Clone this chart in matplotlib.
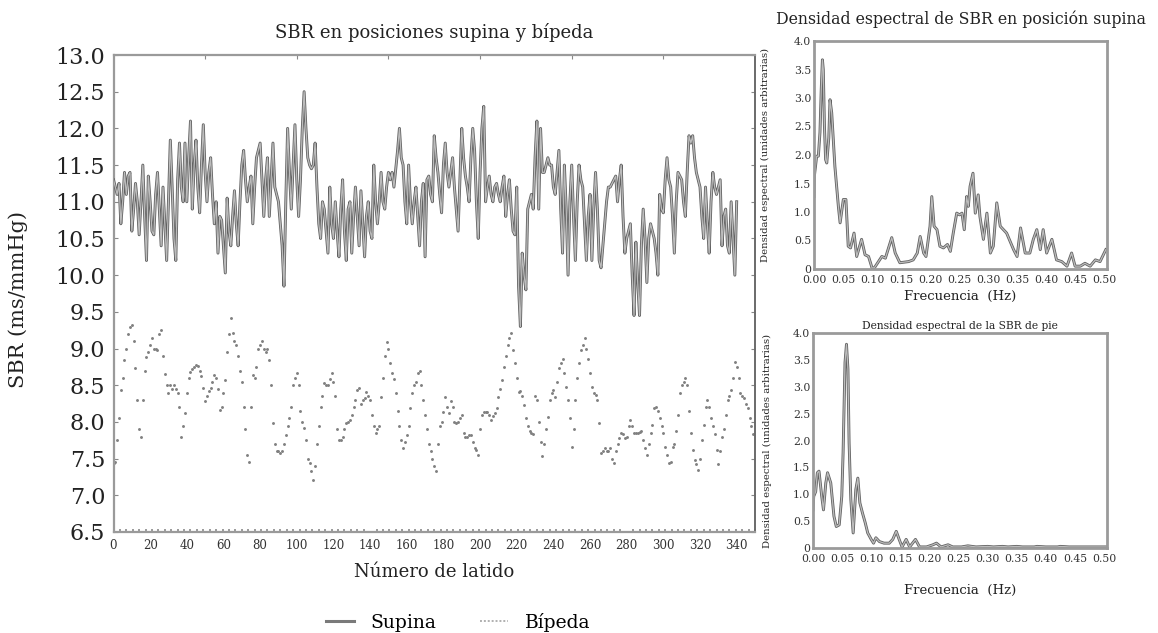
import matplotlib
matplotlib.use("Agg")
import matplotlib.pyplot as plt
import matplotlib.patheffects as pe
from matplotlib.lines import Line2D
from matplotlib.ticker import MultipleLocator

plt.rcParams['font.family'] = ['DejaVu Serif']

# ---------------- data ----------------
supina = [
    11.3, 11.2, 11.1, 11.25, 10.7, 11.0, 11.4, 11.1, 11.35, 11.4,
    10.6, 10.9, 11.25, 11.0, 10.55, 11.0, 11.5, 10.8, 10.2, 11.35,
    11.0, 10.6, 10.55, 11.1, 11.4, 10.9, 10.4, 11.2, 10.7, 10.2,
    11.0, 11.84, 11.2, 10.5, 10.2, 11.3, 11.8, 11.2, 11.0, 11.8,
    11.0, 11.6, 12.1, 10.9, 11.5, 11.84, 11.2, 10.85, 11.5, 12.05,
    11.4, 11.0, 11.4, 11.6, 11.1, 10.7, 11.0, 10.3, 10.8, 10.75,
    10.4, 10.03, 11.05, 10.6, 10.4, 10.8, 11.15, 10.7, 10.4, 11.0,
    11.5, 11.7, 11.3, 11.0, 11.2, 11.35, 10.7, 11.2, 11.6, 11.7,
    11.8, 11.3, 10.8, 11.3, 11.6, 10.8, 11.3, 11.8, 11.2, 11.1,
    11.0, 10.7, 10.4, 9.85, 11.0, 12.0, 11.4, 10.9, 11.5, 12.05,
    11.3, 10.8, 11.3, 12.0, 12.5, 12.0, 11.6, 11.5, 11.45, 11.5,
    11.8, 11.2, 10.7, 10.5, 11.0, 10.9, 10.6, 10.3, 11.2, 10.7,
    10.5, 11.0, 10.6, 10.25, 10.9, 11.3, 10.6, 10.2, 10.9, 11.0,
    10.3, 10.8, 11.2, 10.8, 10.4, 11.15, 10.7, 10.25, 10.8, 11.0,
    10.6, 10.5, 11.5, 11.0, 10.7, 11.0, 11.4, 11.0, 10.9, 11.2,
    11.4, 11.3, 11.4, 11.2, 11.45, 11.7, 12.0, 11.6, 11.5, 11.0,
    10.7, 11.5, 11.0, 10.7, 11.0, 11.2, 10.8, 10.4, 11.0, 11.25,
    10.25, 11.3, 11.35, 11.1, 11.0, 11.9, 11.6, 11.4, 11.1, 10.85,
    11.5, 11.8, 11.4, 11.2, 11.4, 11.6, 11.2, 10.9, 10.6, 11.3,
    12.0, 11.6, 11.35, 11.2, 11.0, 11.6, 12.0, 11.7, 11.0, 10.5,
    11.4, 12.0, 12.3, 11.0, 11.2, 11.35, 11.1, 11.0, 11.2, 11.25,
    11.1, 11.0, 11.2, 11.35, 10.8, 11.1, 11.3, 10.9, 10.6, 10.55,
    11.2, 9.85, 9.3, 10.3, 10.0, 9.8, 10.9, 11.0, 11.1, 10.9,
    11.6, 12.1, 10.9, 12.0, 11.4, 11.4, 11.5, 11.6, 11.5, 11.5,
    11.2, 11.1, 11.4, 11.7, 10.9, 10.3, 11.5, 10.9, 10.0, 11.0,
    11.5, 10.8, 10.2, 11.0, 11.5, 11.3, 11.2, 10.7, 10.2, 10.8,
    11.1, 10.2, 10.9, 11.4, 10.9, 10.2, 10.1, 10.4, 10.7, 11.0,
    11.2, 11.2, 11.25, 11.3, 11.35, 11.0, 11.3, 11.5, 10.8, 10.3,
    10.5, 10.6, 10.7, 10.0, 9.45, 10.45, 9.9, 9.45, 10.4, 10.9,
    10.5, 9.9, 10.5, 10.7, 10.6, 10.5, 10.3, 10.0, 11.1, 10.9,
    10.85, 11.3, 11.6, 11.3, 11.2, 10.8, 10.3, 11.0, 11.4, 11.35,
    11.3, 11.0, 10.8, 11.4, 11.9, 11.8, 11.9, 11.6, 11.4, 11.3,
    11.2, 10.8, 10.5, 11.2, 10.7, 10.3, 11.0, 11.4, 11.2, 11.1,
    11.2, 11.3, 10.4, 10.8, 10.9, 10.4, 10.3, 11.0, 10.5, 10.0,
    11.0,
]

bipeda = [
    7.44, 7.45, 7.75, 8.05, 8.44, 8.6, 8.84, 9.0, 9.2, 9.3,
    9.32, 9.1, 8.73, 8.3, 7.9, 7.8, 8.3, 8.7, 8.89, 8.95,
    9.05, 9.14, 9.0, 9.0, 8.98, 9.2, 9.25, 8.9, 8.65, 8.5,
    8.39, 8.5, 8.45, 8.5, 8.45, 8.4, 8.21, 7.8, 7.95, 8.12,
    8.4, 8.6, 8.68, 8.72, 8.75, 8.77, 8.76, 8.7, 8.62, 8.46,
    8.28, 8.35, 8.42, 8.46, 8.55, 8.64, 8.6, 8.45, 8.16, 8.2,
    8.4, 8.57, 8.95, 9.2, 9.41, 9.21, 9.1, 9.05, 8.9, 8.7,
    8.55, 8.2, 7.9, 7.55, 7.45, 8.2, 8.64, 8.6, 8.75, 9.0,
    9.05, 9.1, 9.0, 8.95, 9.0, 8.85, 8.5, 7.98, 7.7, 7.6,
    7.6, 7.58, 7.6, 7.7, 7.82, 7.94, 8.05, 8.2, 8.5, 8.6,
    8.66, 8.5, 8.15, 8.0, 7.92, 7.75, 7.5, 7.44, 7.33, 7.21,
    7.4, 7.7, 7.95, 8.2, 8.36, 8.53, 8.5, 8.5, 8.58, 8.66,
    8.55, 8.35, 7.9, 7.75, 7.75, 7.8, 7.9, 7.98, 8.0, 8.03,
    8.1, 8.2, 8.3, 8.44, 8.46, 8.25, 8.3, 8.32, 8.41, 8.35,
    8.3, 8.1, 7.95, 7.85, 7.9, 7.95, 8.34, 8.6, 8.9, 9.09,
    9.0, 8.8, 8.66, 8.58, 8.4, 8.15, 7.94, 7.76, 7.64, 7.72,
    7.82, 7.95, 8.19, 8.39, 8.5, 8.55, 8.66, 8.7, 8.5, 8.3,
    8.1, 7.9, 7.7, 7.6, 7.5, 7.4, 7.33, 7.7, 7.94, 8.0,
    8.14, 8.34, 8.2, 8.12, 8.28, 8.2, 8.0, 7.98, 8.0, 8.05,
    8.1, 7.85, 7.8, 7.8, 7.82, 7.82, 7.72, 7.65, 7.62, 7.55,
    7.9, 8.1, 8.14, 8.14, 8.14, 8.1, 8.03, 8.08, 8.12, 8.19,
    8.34, 8.45, 8.57, 8.75, 8.9, 9.05, 9.15, 9.21, 8.98, 8.8,
    8.6, 8.41, 8.42, 8.35, 8.23, 8.05, 7.95, 7.88, 7.85, 7.83,
    8.35, 8.3, 8.0, 7.73, 7.53, 7.7, 7.9, 8.07, 8.3, 8.4,
    8.44, 8.34, 8.55, 8.73, 8.8, 8.86, 8.66, 8.48, 8.3, 8.05,
    7.66, 7.9, 8.3, 8.6, 8.8, 8.98, 9.05, 9.14, 9.0, 8.86,
    8.66, 8.48, 8.4, 8.37, 8.3, 7.99, 7.57, 7.6, 7.64, 7.6,
    7.6, 7.64, 7.5, 7.44, 7.6, 7.7, 7.78, 7.85, 7.83, 7.78,
    7.8, 7.94, 8.03, 7.95, 7.85, 7.85, 7.85, 7.86, 7.88, 7.76,
    7.64, 7.55, 7.7, 7.85, 7.96, 8.19, 8.2, 8.15, 8.05, 7.95,
    7.85, 7.66, 7.55, 7.44, 7.46, 7.66, 7.7, 7.88, 8.1, 8.4,
    8.5, 8.55, 8.6, 8.5, 8.15, 7.85, 7.62, 7.48, 7.42, 7.35,
    7.5, 7.76, 7.96, 8.2, 8.3, 8.2, 8.05, 7.95, 7.83, 7.62,
    7.42, 7.6, 7.8, 7.9, 8.1, 8.3, 8.35, 8.44, 8.6, 8.82,
    8.75, 8.6, 8.4, 8.35, 8.32, 8.25, 8.19, 8.05, 7.95, 7.83,
]

main_xticks = list(range(0, 341, 20))
main_yticks = [6.5, 7.0, 7.5, 8.0, 8.5, 9.0, 9.5, 10.0, 10.5, 11.0, 11.5, 12.0, 12.5, 13.0]

# spectrum supine position
f_sup = [0.0, 0.0006, 0.0046, 0.0075, 0.0103, 0.0125, 0.0145, 0.016, 0.018, 0.020,
         0.022, 0.0255, 0.0276, 0.0305, 0.036, 0.042, 0.045, 0.0506, 0.055, 0.059,
         0.063, 0.069, 0.0736, 0.082, 0.088, 0.094, 0.100, 0.104, 0.117, 0.123,
         0.134, 0.140, 0.148, 0.163, 0.171, 0.178, 0.183, 0.189, 0.193, 0.200,
         0.203, 0.207, 0.212, 0.217, 0.223, 0.230, 0.235, 0.240, 0.246, 0.251,
         0.255, 0.259, 0.263, 0.266, 0.269, 0.274, 0.278, 0.283, 0.286, 0.292,
         0.298, 0.304, 0.309, 0.315, 0.321, 0.332, 0.344, 0.350, 0.356, 0.364,
         0.372, 0.378, 0.384, 0.390, 0.395, 0.401, 0.410, 0.418, 0.427, 0.436,
         0.444, 0.450, 0.459, 0.467, 0.476, 0.485, 0.493, 0.503]
d_sup = [1.27, 1.63, 1.98, 1.98, 2.4, 3.15, 3.67, 3.5, 2.5, 1.92,
         1.86, 2.3, 2.97, 2.74, 1.8, 1.1, 0.81, 1.22, 1.22, 0.4,
         0.37, 0.63, 0.22, 0.52, 0.25, 0.22, 0.02, 0.02, 0.22, 0.19,
         0.55, 0.28, 0.11, 0.13, 0.16, 0.28, 0.57, 0.28, 0.22, 0.75,
         1.27, 0.75, 0.69, 0.40, 0.37, 0.43, 0.31, 0.63, 0.98, 0.95,
         0.98, 0.69, 1.27, 1.10, 1.45, 1.68, 0.98, 1.30, 0.92, 0.52,
         0.98, 0.28, 0.40, 1.16, 0.75, 0.63, 0.34, 0.22, 0.72, 0.28,
         0.28, 0.52, 0.69, 0.34, 0.69, 0.28, 0.52, 0.16, 0.13, 0.05,
         0.28, 0.05, 0.05, 0.10, 0.05, 0.16, 0.13, 0.34]

# spectrum standing
f_bip = [0.0, 0.0012, 0.0046, 0.0075, 0.0103, 0.015, 0.018, 0.022, 0.025, 0.0305,
         0.036, 0.040, 0.045, 0.0494, 0.0517, 0.055, 0.0575, 0.060, 0.062, 0.065,
         0.069, 0.0736, 0.077, 0.0805, 0.085, 0.0897, 0.094, 0.100, 0.104, 0.108,
         0.114, 0.122, 0.131, 0.137, 0.143, 0.148, 0.153, 0.160, 0.166, 0.176,
         0.183, 0.195, 0.206, 0.212, 0.220, 0.232, 0.240, 0.255, 0.266, 0.280,
         0.300, 0.310, 0.325, 0.335, 0.350, 0.360, 0.380, 0.385, 0.400, 0.420,
         0.425, 0.440, 0.505]
d_bip = [0.71, 0.96, 1.05, 1.40, 1.43, 0.96, 0.71, 1.21, 1.40, 1.21,
         0.59, 0.40, 0.43, 0.96, 1.77, 3.45, 3.79, 3.33, 1.96, 0.90,
         0.28, 1.09, 1.30, 0.84, 0.65, 0.47, 0.28, 0.16, 0.09, 0.19,
         0.12, 0.09, 0.09, 0.16, 0.31, 0.16, 0.02, 0.16, 0.02, 0.16,
         0.02, 0.02, 0.06, 0.09, 0.02, 0.06, 0.02, 0.02, 0.04, 0.02,
         0.03, 0.02, 0.03, 0.02, 0.03, 0.02, 0.02, 0.03, 0.02, 0.02,
         0.03, 0.02, 0.02]

spec_xticks = [0.00, 0.05, 0.10, 0.15, 0.20, 0.25, 0.30, 0.35, 0.40, 0.45, 0.50]
spec_yticks = [0, 0.5, 1.0, 1.5, 2.0, 2.5, 3.0, 3.5, 4.0]

# ---------------- figure ----------------
W, H = 1158, 633
fig = plt.figure(figsize=(W / 100, H / 100), dpi=100)


def frac(x0, y0, x1, y1):
    return [x0 / W, 1 - y1 / H, (x1 - x0) / W, (y1 - y0) / H]


line_fx = [pe.withStroke(linewidth=2.1, foreground='#626262')]
spine_col = '#9a9a9a'
txt = '#222222'

# ---- main chart ----
ax = fig.add_axes(frac(113.5, 55, 755, 532))
x_sup = list(range(len(supina)))
x_bip = list(range(len(bipeda)))
ax.plot(x_sup, supina, color='#bcbcbc', lw=0.9, path_effects=line_fx, zorder=3)
ax.plot(x_bip, bipeda, linestyle='none', marker='o', ms=2.1, mew=0,
        color='#808080', zorder=2)
ax.set_xlim(0, 350)
ax.set_ylim(6.5, 13.0)
ax.set_xticks(main_xticks)
ax.set_xticklabels([str(v) for v in main_xticks], fontsize=8.5, color='#333333')
ax.set_yticks(main_yticks)
ax.set_yticklabels([f"{v:.1f}" for v in main_yticks], fontsize=16, color=txt)
ax.tick_params(axis='x', length=0, pad=5)
ax.tick_params(axis='y', direction='in', length=3, color='#888888', right=True, pad=6)
ax.xaxis.set_minor_locator(MultipleLocator(3.5))
ax.tick_params(axis='x', which='minor', direction='in', length=2.5, width=1.2,
               color='#8a8a8a', bottom=True)
sec = ax.secondary_xaxis('top')
sec.set_xticks([50, 100, 150, 200, 250, 300])
sec.tick_params(direction='in', length=3, color='#888888', labeltop=False)
sec.spines['top'].set_visible(False)
for s in ['left', 'top', 'bottom']:
    ax.spines[s].set_color(spine_col)
    ax.spines[s].set_linewidth(1.6)
ax.spines['right'].set_color('#6a6a6a')
ax.spines['right'].set_linewidth(1.4)
ax.set_title("SBR en posiciones supina y bípeda", fontsize=13, pad=12, color=txt)
ax.set_xlabel("Número de latido", fontsize=13, labelpad=8, color=txt)
fig.text(18 / W, 1 - 300 / H, "SBR (ms/mmHg)", rotation=90, ha='center', va='center',
         fontsize=15, color=txt)

# ---- spectra ----
def spectrum_axes(rect, f, d, title, title_fs, title_pad, xlabel_pad, ylabel_x):
    a = fig.add_axes(rect)
    a.plot(f, d, color='#bcbcbc', lw=0.9, path_effects=line_fx)
    a.set_xlim(0, 0.505)
    a.set_ylim(0, 4.0)
    a.set_xticks(spec_xticks)
    a.set_xticklabels([f"{v:.2f}" for v in spec_xticks], fontsize=7.8, color='#333333')
    a.set_yticks(spec_yticks)
    a.set_yticklabels(["0" if v == 0 else f"{v:.1f}" for v in spec_yticks],
                      fontsize=7.8, color='#333333')
    a.tick_params(axis='x', length=0, pad=4)
    a.tick_params(axis='y', length=0, pad=2)
    for s in a.spines.values():
        s.set_color(spine_col)
        s.set_linewidth(2.0)
    a.set_title(title, fontsize=title_fs, pad=title_pad, color=txt)
    a.set_xlabel("Frecuencia  (Hz)", fontsize=9.5, labelpad=xlabel_pad, color=txt)
    a.set_ylabel("Densidad espectral (unidades arbitrarias)", fontsize=7.3, color=txt)
    a.yaxis.set_label_coords(ylabel_x, 0.5)
    return a


spectrum_axes(frac(814, 41, 1107, 269), f_sup, d_sup,
              "Densidad espectral de SBR en posición supina", 11.3, 12, 4, -0.15)
spectrum_axes(frac(813, 333, 1107, 548), f_bip, d_bip,
              "Densidad espectral de la SBR de pie", 7.7, 3, 15, -0.14)

# ---- legend ----
handles = [Line2D([], [], color='#7a7a7a', lw=2.2),
           Line2D([], [], color='#b0b0b0', lw=1.4, linestyle=(0, (1, 1)))]
fig.legend(handles, ["Supina", "Bípeda"], loc='center', bbox_to_anchor=(458 / W, 1 - 622 / H),
           ncol=2, frameon=False, fontsize=13.5, handlelength=1.5, columnspacing=2.3,
           handletextpad=0.9)

fig.savefig("out.png", dpi=100)
